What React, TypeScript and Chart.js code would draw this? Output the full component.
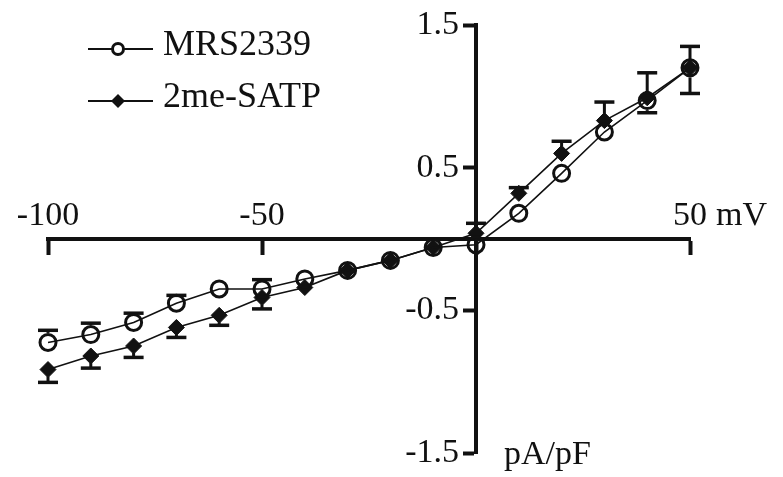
import React, { useEffect, useRef } from 'react';
import { Chart, registerables } from 'chart.js';

Chart.register(...registerables);

const voltages = [-100, -90, -80, -70, -60, -50, -40, -30, -20, -10, 0, 10, 20, 30, 40, 50];
const seriesNames = ['MRS2339', '2me-SATP'];
const mrs2339 = [-0.725, -0.67, -0.585, -0.45, -0.35, -0.35, -0.28, -0.22, -0.15, -0.06, -0.04, 0.18, 0.46, 0.75, 0.97, 1.2];
const mrs2339ErrUp = [0.085, 0.08, 0.065, 0.055, 0, 0.065, 0, 0, 0, 0, 0, 0, 0, 0, 0, 0];
const mrs2339ErrDown = [0, 0, 0, 0, 0, 0, 0, 0, 0, 0, 0, 0, 0, 0, 0.085, 0.18];
const satp = [-0.915, -0.82, -0.75, -0.62, -0.535, -0.41, -0.34, -0.22, -0.15, -0.06, 0.04, 0.32, 0.6, 0.83, 0.99, 1.2];
const satpErrUp = [0, 0, 0, 0, 0, 0, 0, 0, 0, 0, 0.07, 0.04, 0.085, 0.13, 0.175, 0.15];
const satpErrDown = [0.09, 0.085, 0.08, 0.07, 0.07, 0.08, 0, 0, 0, 0, 0, 0, 0, 0, 0, 0];
const xTickValues = [-100, -50, 0, 50];
const yTickValues = [-1.5, -0.5, 0.5, 1.5];
const xUnit = 'mV';
const yUnit = 'pA/pF';

const FONT = '"Liberation Serif", "Times New Roman", serif';
const INK = '#111111';

const errorSets = [
  { up: mrs2339ErrUp, down: mrs2339ErrDown, radius: 9.5 },
  { up: satpErrUp, down: satpErrDown, radius: 7 },
];

const errorBarPlugin = {
  id: 'errorBars',
  beforeDatasetsDraw(chart: any) {
    const { ctx } = chart;
    const xs = chart.scales.x;
    const ys = chart.scales.y;
    ctx.save();
    ctx.strokeStyle = INK;
    chart.data.datasets.forEach((ds: any, di: number) => {
      const set = errorSets[di];
      ds.data.forEach((pt: any, i: number) => {
        const px = xs.getPixelForValue(pt.x);
        const py = ys.getPixelForValue(pt.y);
        const draw = (err: number, dir: number) => {
          if (!err) return;
          const ey = ys.getPixelForValue(pt.y + dir * err);
          const dist = Math.abs(ey - py);
          ctx.lineWidth = 3;
          if (dist > set.radius) {
            ctx.beginPath();
            ctx.moveTo(px, py - dir * set.radius);
            ctx.lineTo(px, ey);
            ctx.stroke();
          }
          ctx.lineWidth = 3.5;
          ctx.beginPath();
          ctx.moveTo(px - 10, ey);
          ctx.lineTo(px + 10, ey);
          ctx.stroke();
        };
        draw(set.up[i], 1);
        draw(set.down[i], -1);
      });
    });
    ctx.restore();
  },
};

const unitsPlugin = {
  id: 'units',
  afterDraw(chart: any) {
    const { ctx } = chart;
    const xs = chart.scales.x;
    const ys = chart.scales.y;
    ctx.save();
    ctx.fillStyle = INK;
    ctx.font = `34px ${FONT}`;
    ctx.textAlign = 'left';
    ctx.textBaseline = 'middle';
    ctx.fillText(xUnit, xs.getPixelForValue(50) + 26, ys.getPixelForValue(0) - 23);
    ctx.textBaseline = 'alphabetic';
    ctx.fillText(yUnit, xs.getPixelForValue(0) + 28, ys.getPixelForValue(-1.5) + 11);
    ctx.restore();
  },
};

const legendPlugin = {
  id: 'customLegend',
  afterDraw(chart: any) {
    const { ctx } = chart;
    const rows = [
      { y: 49, kind: 'circle' },
      { y: 101, kind: 'diamond' },
    ];
    ctx.save();
    rows.forEach((row, i) => {
      ctx.strokeStyle = INK;
      ctx.lineWidth = 1.8;
      ctx.beginPath();
      ctx.moveTo(88, row.y);
      ctx.lineTo(153, row.y);
      ctx.stroke();
      if (row.kind === 'circle') {
        ctx.fillStyle = '#ffffff';
        ctx.lineWidth = 3;
        ctx.beginPath();
        ctx.arc(118, row.y, 5.5, 0, Math.PI * 2);
        ctx.fill();
        ctx.stroke();
      } else {
        ctx.fillStyle = INK;
        ctx.beginPath();
        ctx.moveTo(118, row.y - 7);
        ctx.lineTo(125, row.y);
        ctx.lineTo(118, row.y + 7);
        ctx.lineTo(111, row.y);
        ctx.closePath();
        ctx.fill();
      }
      ctx.fillStyle = INK;
      ctx.font = `36px ${FONT}`;
      ctx.textAlign = 'left';
      ctx.textBaseline = 'middle';
      ctx.fillText(chart.data.datasets[i].label, 163, row.y - 3);
    });
    ctx.restore();
  },
};

export default function App() {
  const ref = useRef<HTMLCanvasElement | null>(null);

  useEffect(() => {
    if (!ref.current) return;
    const chart = new Chart(ref.current, {
      type: 'scatter',
      data: {
        datasets: [
          {
            label: seriesNames[0],
            data: voltages.map((v, i) => ({ x: v, y: mrs2339[i] })),
            showLine: true,
            borderColor: INK,
            borderWidth: 1.6,
            pointStyle: 'circle',
            pointRadius: 8,
            pointBorderWidth: 3,
            pointBorderColor: INK,
            pointBackgroundColor: 'rgba(0,0,0,0)',
            clip: false,
            order: 1,
          },
          {
            label: seriesNames[1],
            data: voltages.map((v, i) => ({ x: v, y: satp[i] })),
            showLine: true,
            borderColor: INK,
            borderWidth: 1.6,
            pointStyle: 'rectRot',
            pointRadius: 8,
            pointBorderWidth: 1,
            pointBorderColor: INK,
            pointBackgroundColor: INK,
            clip: false,
            order: 2,
          },
        ],
      },
      options: {
        animation: false,
        responsive: false,
        devicePixelRatio: 1,
        layout: { padding: { left: 48, right: 93, top: 25, bottom: 24 } },
        plugins: {
          legend: { display: false },
          tooltip: { enabled: false },
        },
        scales: {
          x: {
            type: 'linear',
            min: -100,
            max: 50,
            position: { y: 0 } as any,
            afterBuildTicks: (s: any) => {
              s.ticks = xTickValues.map((v) => ({ value: v }));
            },
            afterFit: (s: any) => {
              s.height = 0;
            },
            grid: {
              drawOnChartArea: false,
              drawTicks: true,
              tickLength: 14,
              tickWidth: 4,
              tickColor: INK,
            },
            border: { display: true, width: 4, color: INK },
            ticks: {
              color: INK,
              font: { family: FONT, size: 34 },
              padding: -57,
              maxRotation: 0,
              autoSkip: false,
              callback: (v: any) => (v === 0 ? '' : String(v)),
            },
          },
          y: {
            type: 'linear',
            min: -1.5,
            max: 1.5,
            position: { x: 0 } as any,
            afterBuildTicks: (s: any) => {
              s.ticks = yTickValues.map((v) => ({ value: v }));
            },
            afterFit: (s: any) => {
              s.width = 0;
            },
            grid: {
              drawOnChartArea: false,
              drawTicks: true,
              tickLength: 11,
              tickWidth: 4,
              tickColor: INK,
            },
            border: { display: true, width: 4, color: INK },
            ticks: {
              color: INK,
              font: { family: FONT, size: 34 },
              autoSkip: false,
              callback: (v: any) => String(v) + '  ',
            },
          },
        },
      },
      plugins: [errorBarPlugin, unitsPlugin, legendPlugin],
    });
    return () => chart.destroy();
  }, []);

  return (
    <div style={{ position: 'fixed', left: 0, top: 0, width: 783, height: 477, background: '#ffffff' }}>
      <canvas ref={ref} width={783} height={477} style={{ width: 783, height: 477, display: 'block' }} />
    </div>
  );
}
